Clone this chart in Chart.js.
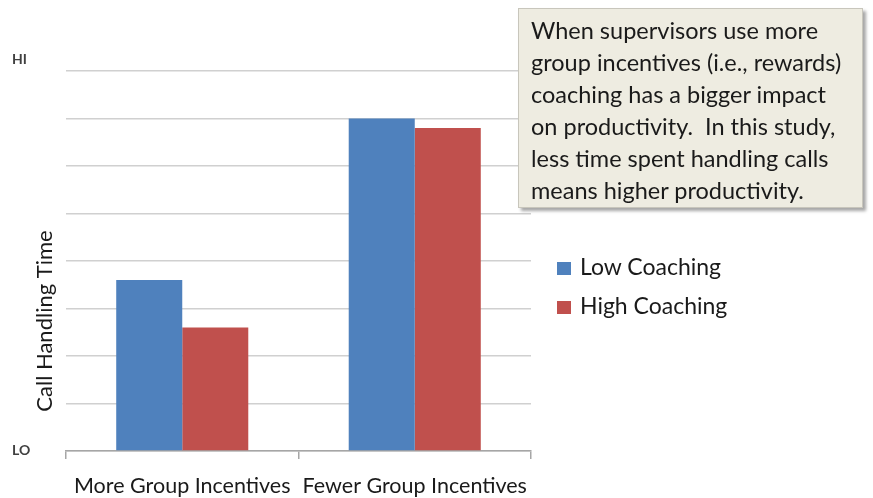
<!DOCTYPE html>
<html>
<head>
<meta charset="utf-8">
<script src="https://cdn.jsdelivr.net/npm/chart.js@4.4.1/dist/chart.umd.min.js"></script>
<style>
  html, body { margin: 0; padding: 0; background: #fff; }
  #wrap { position: relative; width: 873px; height: 498px; overflow: hidden; }
  #chart { position: absolute; left: 0; top: 0; }
  .note {
    position: absolute; left: 518px; top: 8px; width: 345px; height: 200px;
    box-sizing: border-box; padding: 5px 0 0 12px;
    background: #eeece1; border: 1px solid #c8c6bc;
    box-shadow: 3px 3px 3px rgba(0,0,0,0.35);
    font-family: Lato, sans-serif; font-size: 23.5px; line-height: 32px; color: #1a1a1a;
    white-space: nowrap;
  }
  .legend { position: absolute; left: 557px; top: 252px; font-family: Lato, sans-serif; font-size: 23px; color: #1a1a1a; }
  .legend div { height: 39px; line-height: 28px; }
  .legend span { display: inline-block; width: 14px; height: 13px; margin-right: 9px; vertical-align: 0px; }
</style>
</head>
<body>
<div id="wrap">
  <canvas id="chart" width="873" height="498"></canvas>
  <div class="note">When supervisors use more<br>group incentives (i.e., rewards)<br>coaching has a bigger impact<br>on productivity.&nbsp; In this study,<br>less time spent handling calls<br>means higher productivity.</div>
  <div class="legend">
    <div><span style="background:#4f81bd"></span>Low Coaching</div>
    <div><span style="background:#c0504d"></span>High Coaching</div>
  </div>
</div>
<script>
// values (scale 0 = LO, 8 = HI)
const categories = ['More Group Incentives', 'Fewer Group Incentives'];
const lowCoaching = [3.6, 7.0];
const highCoaching = [2.6, 6.8];
const seriesNames = ['Low Coaching', 'High Coaching'];
const yTitle = 'Call Handling Time';

// HI / LO labels and the rotated axis title
const axisText = {
    id: 'axisText',
    afterDraw(chart) {
        const ctx = chart.ctx;
        const y = chart.scales.y;
        ctx.save();
        ctx.fillStyle = '#404040';
        ctx.font = 'bold 14px Lato, sans-serif';
        ctx.textBaseline = 'middle';
        ctx.fillText('HI', 12, y.getPixelForValue(y.max) - 12);
        ctx.fillText('LO', 12, y.getPixelForValue(y.min) - 1);
        ctx.translate(45, 321);
        ctx.rotate(-Math.PI / 2);
        ctx.textAlign = 'center';
        ctx.font = '22px Lato, sans-serif';
        ctx.fillStyle = '#1a1a1a';
        ctx.fillText(yTitle, 0, 0);
        ctx.restore();
    }
};

const ctx = document.getElementById('chart').getContext('2d');
new Chart(ctx, {
    type: 'bar',
    data: {
        labels: categories,
        datasets: [
            { label: seriesNames[0], data: lowCoaching, backgroundColor: '#4f81bd' },
            { label: seriesNames[1], data: highCoaching, backgroundColor: '#c0504d' }
        ]
    },
    options: {
        responsive: false,
        animation: false,
        layout: { padding: { left: 66, right: 342, top: 71, bottom: 0 } },
        datasets: { bar: { categoryPercentage: 0.568, barPercentage: 1.0 } },
        plugins: { legend: { display: false }, tooltip: { enabled: false } },
        scales: {
            x: {
                afterFit: s => { s.height = 47; },
                border: { color: '#a6a6a6', width: 1.5 },
                grid: { offset: true, drawOnChartArea: false, color: '#a6a6a6', tickLength: 8, lineWidth: 1.5 },
                ticks: { color: '#1a1a1a', font: { family: 'Lato, sans-serif', size: 21.5 }, padding: 14 }
            },
            y: {
                min: 0, max: 8,
                afterFit: s => { s.width = 0; },
                border: { display: false },
                grid: { color: '#d0d0d0', lineWidth: 1.5, drawTicks: false },
                ticks: { display: false, stepSize: 1 }
            }
        }
    },
    plugins: [axisText]
});
</script>
</body>
</html>
